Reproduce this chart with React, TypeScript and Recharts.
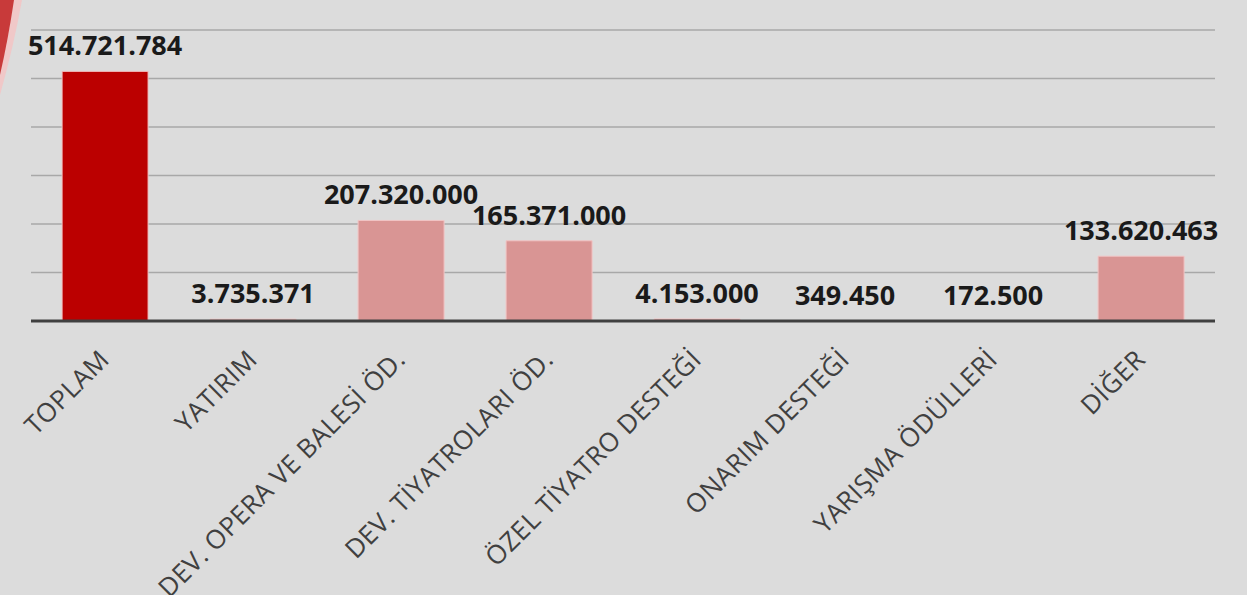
import { BarChart, Bar, XAxis, YAxis, CartesianGrid, Cell, LabelList } from "recharts";

const categories = [
  "TOPLAM",
  "YATIRIM",
  "DEV. OPERA VE BALESİ ÖD.",
  "DEV. TİYATROLARI ÖD.",
  "ÖZEL TİYATRO DESTEĞİ",
  "ONARIM DESTEĞİ",
  "YARIŞMA ÖDÜLLERİ",
  "DİĞER",
];

const amounts = [514721784, 3735371, 207320000, 165371000, 4153000, 349450, 172500, 133620463];

const yTicks = [0, 100000000, 200000000, 300000000, 400000000, 500000000, 600000000];

const data = categories.map((name, i) => ({ name, value: amounts[i] }));

// Türkçe binlik ayraç: 514.721.784
const formatTr = (v: number) => String(Math.round(v)).replace(/\B(?=(\d{3})+(?!\d))/g, ".");

const CategoryTick = (props: any) => {
  const { x, y, payload } = props;
  return (
    <g transform={`translate(${x + 6},${y + 40})`}>
      <text
        transform="rotate(-45)"
        textAnchor="end"
        fontFamily="Open Sans, Liberation Sans, sans-serif"
        fontSize={26}
        letterSpacing={0.5}
        fill="#404040"
      >
        {payload.value}
      </text>
    </g>
  );
};

const ValueLabel = (props: any) => {
  const { x, y, width, value } = props;
  return (
    <text
      x={x + width / 2}
      y={y - 16}
      textAnchor="middle"
      fontFamily="Open Sans, Liberation Sans, sans-serif"
      fontWeight="bold"
      fontSize={27}
      fill="#1a1a1a"
    >
      {formatTr(value)}
    </text>
  );
};

export default function App() {
  return (
    <div
      style={{
        position: "absolute",
        left: 0,
        top: 0,
        width: 1247,
        height: 595,
        background: "#dcdcdc",
        overflow: "hidden",
      }}
    >
      {/* kırmızı slayt kenarı */}
      <svg width={40} height={120} style={{ position: "absolute", left: 0, top: 0 }}>
        <path d="M0,0 L22,0 Q14,45 0,95 Z" fill="#f0c8c8" />
        <path d="M0,0 L14,0 Q8,40 0,75 Z" fill="#c83a3a" />
      </svg>
      <BarChart
        width={1247}
        height={595}
        data={data}
        margin={{ top: 30, right: 32, left: 31, bottom: 0 }}
        barCategoryGap="21%"
      >
        <CartesianGrid horizontal vertical={false} stroke="#a8a8a8" strokeWidth={1.5} />
        <YAxis hide width={0} domain={[0, 600000000]} ticks={yTicks} />
        <XAxis
          dataKey="name"
          interval={0}
          height={274}
          tickLine={false}
          tickSize={0}
          tickMargin={0}
          axisLine={{ stroke: "#404040", strokeWidth: 3 }}
          tick={<CategoryTick />}
        />
        <Bar dataKey="value" isAnimationActive={false} stroke="#f2c4c4" strokeWidth={1}>
          {data.map((d, i) => (
            <Cell key={d.name} fill={i === 0 ? "#bb0000" : "#d99594"} />
          ))}
          <LabelList dataKey="value" content={<ValueLabel />} />
        </Bar>
      </BarChart>
    </div>
  );
}
